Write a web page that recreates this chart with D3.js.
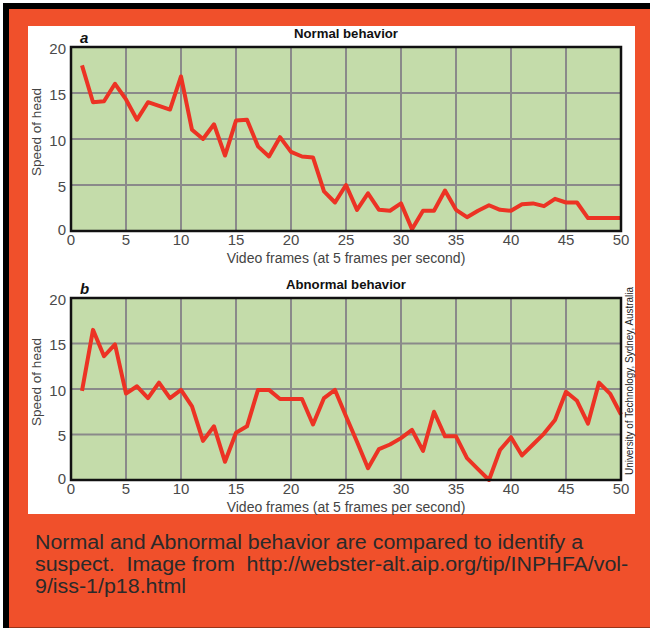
<!DOCTYPE html>
<html>
<head>
<meta charset="utf-8">
<script src="https://cdn.jsdelivr.net/npm/d3@7"></script>
<style>
  html, body { margin: 0; padding: 0; background: #fff; }
  svg { display: block; }
  text { font-family: "Liberation Sans", Arial, sans-serif; }
</style>
</head>
<body>
<svg id="chart"></svg>
<script>
// frames along x, speed of head along y
var frames = [1,2,3,4,5,6,7,8,9,10,11,12,13,14,15,16,17,18,19,20,
  21,22,23,24,25,26,27,28,29,30,31,32,33,34,35,36,37,38,39,40,
  41,42,43,44,45,46,47,48,49,50];

var normalSpeed = [18,14,14.1,16,14.3,12.1,14,13.6,13.2,16.8,
  11,10,11.6,8.2,12,12.1,9.2,8.1,10.2,8.6,
  8.1,8,4.3,3.1,5,2.3,4.1,2.3,2.2,3,
  0.2,2.2,2.2,4.4,2.3,1.5,2.2,2.8,2.3,2.2,
  2.9,3,2.7,3.5,3.1,3.1,1.4,1.4,1.4,1.4];

var abnormalSpeed = [9.8,16.5,13.6,14.9,9.5,10.3,9,10.7,9,9.9,
  8.1,4.3,5.9,2,5.2,5.9,9.9,9.9,8.9,8.9,
  8.9,6.1,9,9.9,7,4.2,1.3,3.4,3.9,4.6,
  5.5,3.2,7.5,4.8,4.8,2.4,1.2,0,3.3,4.7,
  2.7,3.9,5.1,6.6,9.7,8.7,6.2,10.7,9.5,7.2];

var xTicks = [0,5,10,15,20,25,30,35,40,45,50];
var yTicks = [0,5,10,15,20];

var panels = [
  {letter: "a", title: "Normal behavior", values: normalSpeed, top: 47, bottom: 231},
  {letter: "b", title: "Abnormal behavior", values: abnormalSpeed, top: 298, bottom: 480}
];

var captionLines = [
  "Normal and Abnormal behavior are compared to identify a",
  "suspect.  Image from  http://webster-alt.aip.org/tip/INPHFA/vol-",
  "9/iss-1/p18.html"
];

var width = 650, height = 628;
var svg = d3.select("#chart").attr("width", width).attr("height", height);

// frame: black edge, orange poster, white card
svg.append("rect").attr("x", 0).attr("y", 0).attr("width", width).attr("height", height).attr("fill", "#fff");
svg.append("rect").attr("x", 3).attr("y", 3).attr("width", width - 3).attr("height", height - 3).attr("fill", "#000");
svg.append("rect").attr("x", 9).attr("y", 9).attr("width", width - 9).attr("height", height - 10).attr("fill", "#f0502b");
svg.append("rect").attr("x", 9).attr("y", height - 1).attr("width", width - 9).attr("height", 1).attr("fill", "#9a3418");
svg.append("rect").attr("x", 28).attr("y", 26).attr("width", 607).attr("height", 488).attr("fill", "#fff");

var left = 71, right = 621;
var x = d3.scaleLinear().domain([0, 50]).range([left, right]);

panels.forEach(function(p) {
  var y = d3.scaleLinear().domain([0, 20]).range([p.bottom, p.top]);
  var g = svg.append("g");

  g.append("rect")
    .attr("x", left).attr("y", p.top)
    .attr("width", right - left).attr("height", p.bottom - p.top)
    .attr("fill", "#c4dcaa");

  g.selectAll(".vgrid").data(xTicks.slice(1, -1)).enter().append("line")
    .attr("x1", function(d) { return x(d); }).attr("x2", function(d) { return x(d); })
    .attr("y1", p.top).attr("y2", p.bottom)
    .attr("stroke", "#8a8a8a").attr("stroke-width", 2);

  g.selectAll(".hgrid").data(yTicks.slice(1, -1)).enter().append("line")
    .attr("x1", left).attr("x2", right)
    .attr("y1", function(d) { return y(d); }).attr("y2", function(d) { return y(d); })
    .attr("stroke", "#8a8a8a").attr("stroke-width", 2);

  var line = d3.line()
    .x(function(d, i) { return x(frames[i]); })
    .y(function(d) { return y(d); });

  g.append("path")
    .datum(p.values)
    .attr("d", line)
    .attr("fill", "none")
    .attr("stroke", "#ec3324")
    .attr("stroke-width", 4)
    .attr("stroke-linejoin", "round");

  g.append("rect")
    .attr("x", left).attr("y", p.top)
    .attr("width", right - left).attr("height", p.bottom - p.top)
    .attr("fill", "none").attr("stroke", "#111").attr("stroke-width", 2.5);

  // tick labels
  g.selectAll(".ylab").data(yTicks).enter().append("text")
    .attr("x", left - 5)
    .attr("y", function(d) { return y(d) + (d == 0 ? 4 : 6.5); })
    .attr("text-anchor", "end")
    .attr("font-size", 15).attr("fill", "#4a4a4a")
    .text(function(d) { return d; });

  g.selectAll(".xlab").data(xTicks).enter().append("text")
    .attr("x", function(d) { return x(d); })
    .attr("y", p.bottom + 14)
    .attr("text-anchor", "middle")
    .attr("font-size", 15).attr("fill", "#4a4a4a")
    .text(function(d) { return d; });

  g.append("text")
    .attr("x", 346).attr("y", p.bottom + 32)
    .attr("text-anchor", "middle")
    .attr("font-size", 14).attr("fill", "#444")
    .text("Video frames (at 5 frames per second)");

  g.append("text")
    .attr("transform", "translate(41," + ((p.top + p.bottom) / 2 - 7) + ") rotate(-90)")
    .attr("text-anchor", "middle")
    .attr("font-size", 13.5).attr("fill", "#444")
    .text("Speed of head");

  g.append("text")
    .attr("x", 346).attr("y", p.top - 9)
    .attr("text-anchor", "middle")
    .attr("font-size", 13).attr("font-weight", "bold").attr("fill", "#111")
    .attr("textLength", p.letter == "a" ? 104 : 120).attr("lengthAdjust", "spacingAndGlyphs")
    .text(p.title);

  g.append("text")
    .attr("x", 80).attr("y", p.top - 4)
    .attr("font-size", 15).attr("font-weight", "bold").attr("font-style", "italic").attr("fill", "#111")
    .text(p.letter);
});

svg.append("text")
  .attr("transform", "translate(633,381) rotate(-90)")
  .attr("text-anchor", "middle")
  .attr("font-size", 10).attr("fill", "#222")
  .attr("textLength", 188).attr("lengthAdjust", "spacingAndGlyphs")
  .text("University of Technology, Sydney, Australia");

// caption, slightly wide like the poster lettering
svg.selectAll(".caption").data(captionLines).enter().append("text")
  .attr("transform", function(d, i) { return "translate(35," + (549 + i * 22) + ") scale(1.07,1)"; })
  .attr("font-size", 20).attr("fill", "#2a2a2a")
  .style("white-space", "pre")
  .text(function(d) { return d; });
</script>
</body>
</html>
